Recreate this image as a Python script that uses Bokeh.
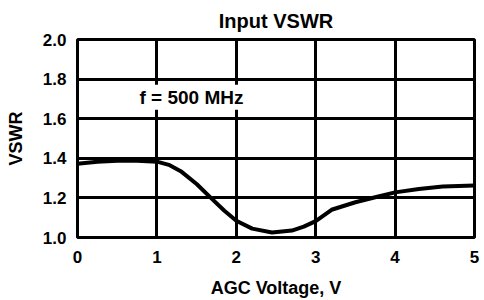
from bokeh.plotting import figure
from bokeh.models import Range1d, FixedTicker, PrintfTickFormatter, Label
from bokeh.embed import file_html
from bokeh.resources import INLINE

# ---- data ----
agc_voltage = [0.0, 0.25, 0.5, 0.75, 1.0, 1.15, 1.3, 1.5, 1.68, 1.85, 2.0, 2.2,
               2.45, 2.7, 2.85, 3.0, 3.2, 3.5, 3.75, 4.0, 4.3, 4.6, 5.0]
vswr = [1.373, 1.382, 1.387, 1.387, 1.383, 1.367, 1.335, 1.27, 1.2, 1.135, 1.085, 1.045,
        1.025, 1.035, 1.055, 1.083, 1.14, 1.178, 1.203, 1.228, 1.245, 1.257, 1.263]
x_ticks = [0, 1, 2, 3, 4, 5]
y_ticks = [1.0, 1.2, 1.4, 1.6, 1.8, 2.0]
title_text = "Input VSWR"
x_label = "AGC Voltage, V"
y_label = "VSWR"
note_text = "f = 500 MHz"
note_x = 1.435
note_y = 1.708

FONT = "Liberation Sans"

p = figure(width=484, height=300, output_backend="svg", toolbar_location=None,
           x_range=Range1d(0, 5), y_range=Range1d(1, 2),
           min_border_left=77, min_border_right=10, min_border_top=38, min_border_bottom=63)

p.title.text = title_text
p.title.align = "center"
p.title.text_font = FONT
p.title.text_font_size = "20px"
p.title.text_font_style = "bold"
p.title.text_color = "black"
p.title.standoff = 15

p.xaxis.ticker = FixedTicker(ticks=x_ticks)
p.yaxis.ticker = FixedTicker(ticks=y_ticks)
p.xaxis.formatter = PrintfTickFormatter(format="%d")
p.yaxis.formatter = PrintfTickFormatter(format="%.1f")
p.xaxis.axis_label = x_label
p.yaxis.axis_label = y_label

for ax in (p.xaxis, p.yaxis):
    ax.axis_line_color = None
    ax.major_tick_line_color = None
    ax.minor_tick_line_color = None
    ax.major_label_text_font = FONT
    ax.major_label_text_font_size = "17px"
    ax.major_label_text_font_style = "bold"
    ax.major_label_text_color = "black"
    ax.axis_label_text_font = FONT
    ax.axis_label_text_font_size = "18px"
    ax.axis_label_text_font_style = "bold"
    ax.axis_label_text_color = "black"

p.xaxis.major_label_standoff = 7
p.xaxis.axis_label_standoff = 12
p.yaxis.major_label_standoff = 5
p.yaxis.axis_label_standoff = 14

p.grid.grid_line_color = "black"
p.grid.grid_line_width = 3
p.grid.grid_line_alpha = 1.0

p.outline_line_color = "black"
p.outline_line_width = 3
p.outline_line_alpha = 1.0

p.line(agc_voltage, vswr, line_width=4, line_color="black", line_join="round", line_cap="round")

note = Label(x=note_x, y=note_y, text=note_text, text_align="center", text_baseline="middle",
             text_font=FONT, text_font_size="19px", text_font_style="bold", text_color="black",
             background_fill_color="white", background_fill_alpha=1.0, padding=2)
p.add_layout(note)

open("out.html", "w").write(file_html(p, INLINE))
